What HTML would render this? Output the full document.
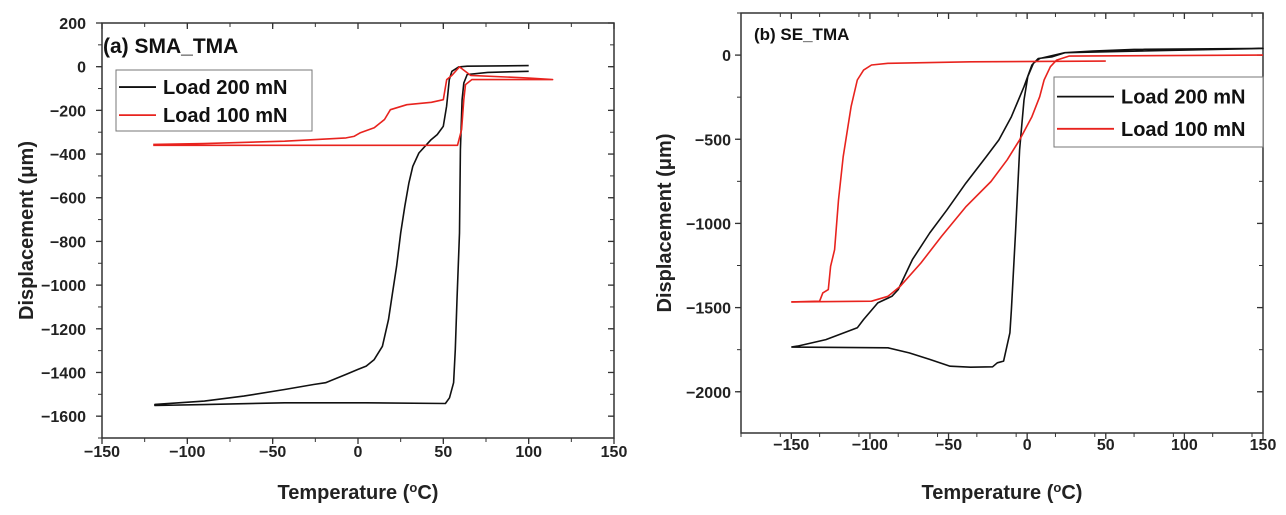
<!DOCTYPE html>
<html><head><meta charset="utf-8"><style>
body{margin:0;background:#fff;}
svg{display:block;font-family:"Liberation Sans",sans-serif;}
</style></head><body>
<svg id="svg" width="1286" height="515"></svg>
<script>
// Panel (a) data
const aTicksX=[-150,-100,-50,0,50,100,150];
const aTicksY=[200,0,-200,-400,-600,-800,-1000,-1200,-1400,-1600];
const a200T=[100,64,59,55,53.5,51.9,50,46.4,42.9,39.3,35.7,32.1,29.8,27.4,25,22.6,20.2,17.9,14.3,9.5,4.8,0,-7,-19,-26,-43,-67,-90,-119,-119,-90.5,-43,4.8,51.2,53.6,56,57,58,59.5,60,61,62,64,76,100];
const a200D=[5,2,-1,-21,-59,-181,-273,-311,-334,-364,-395,-456,-532,-639,-761,-914,-1036,-1158,-1280,-1341,-1371,-1386,-1409,-1447,-1455,-1478,-1508,-1531,-1546,-1551,-1547,-1539,-1539,-1542,-1516,-1447,-1295,-1066,-761,-380,-151,-75,-36,-26,-21];
const a100T=[-120,58.3,60.7,62,63,66.7,114,100,66,59.5,55,52,50,43,28.6,19,15.5,9.5,1.2,-2.4,-7,-43,-90.5,-120];
const a100D=[-360,-360,-288,-151,-82,-59,-59,-52,-40,-1,-40,-59,-151,-163,-174,-197,-242,-280,-303,-319,-326,-341,-352,-356];
// Panel (b) data
const bTicksX=[-150,-100,-50,0,50,100,150];
const bTicksY=[0,-500,-1000,-1500,-2000];
const b200T=[-150,-146,-128,-108,-104,-95,-86,-82,-73,-62,-51,-39,-26,-18,-10,-2,3,7,16,24,42,68,150,150,24,8,4,0.4,-2,-4.8,-7.4,-10,-11,-15,-19,-22,-36,-49,-62,-75,-88.5,-150];
const b200D=[-1735,-1729,-1690,-1620,-1571,-1472,-1433,-1393,-1215,-1057,-919,-761,-603,-504,-366,-188,-59,-20,-10,14,24,34,40,40,14,-20,-49,-128,-267,-563,-1057,-1512,-1650,-1818,-1828,-1852,-1854,-1848,-1808,-1769,-1739,-1735];
const b100T=[-150,-99,-88.5,-80.7,-67.6,-54.5,-38.8,-23,-12.7,-4.8,3,8,10.8,14.8,18.7,26.6,150];
const b100D=[-1466,-1462,-1433,-1373,-1235,-1077,-899,-751,-622,-504,-366,-247,-148,-69,-30,-6,0];
const b100cT=[50,-36,-88.5,-99,-104,-108,-112,-117,-120,-122.5,-125,-126.5,-130,-132,-150];
const b100cD=[-36,-40,-49,-59,-89,-148,-306,-603,-860,-1156,-1255,-1393,-1413,-1462,-1466];

const NS='http://www.w3.org/2000/svg';
const svg=document.getElementById('svg');
function mk(tag,attrs,parent){const e=document.createElementNS(NS,tag);for(const k in attrs)e.setAttribute(k,attrs[k]);(parent||svg).appendChild(e);return e;}

function panel(p){
  const g=mk('g',{});
  
  
  const sx=v=>p.x0+(v-p.xmin)/(p.xmax-p.xmin)*(p.x1-p.x0);
  const sy=v=>p.y1-(v-p.ymin)/(p.ymax-p.ymin)*(p.y1-p.y0);
  const box=mk('rect',{x:p.x0,y:p.y0,width:p.x1-p.x0,height:p.y1-p.y0,fill:'none',stroke:'#333','stroke-width':1.5},g);
  
  
  p.ticksX.forEach(v=>{
    const X=sx(v);
    mk('line',{x1:X,x2:X,y1:p.y1,y2:p.y1+6,stroke:'#333','stroke-width':1.3},g);
    mk('line',{x1:X,x2:X,y1:p.y0,y2:p.y0+6,stroke:'#333','stroke-width':1.3},g);
    const t=mk('text',{x:X,y:p.y1+p.xld,'text-anchor':'middle','font-size':16,'font-weight':'bold',fill:'#222'},g);
    t.textContent=(v<0?'\u2212'+(-v):v);
    
    
  });
  for(let v=p.xmin;v<=p.xmax;v+=p.mx){const X=sx(v);
    mk('line',{x1:X,x2:X,y1:p.y1,y2:p.y1+4,stroke:'#333','stroke-width':1},g);
    mk('line',{x1:X,x2:X,y1:p.y0,y2:p.y0+4,stroke:'#333','stroke-width':1},g);}
  p.ticksY.forEach(v=>{
    const Y=sy(v);
    mk('line',{x1:p.x0-6,x2:p.x0,y1:Y,y2:Y,stroke:'#333','stroke-width':1.3},g);
    mk('line',{x1:p.x1-6,x2:p.x1,y1:Y,y2:Y,stroke:'#333','stroke-width':1.3},g);
    const t=mk('text',{x:p.x0-p.yld,y:Y+6,'text-anchor':'end','font-size':16,'font-weight':'bold',fill:'#222'},g);
    t.textContent=(v<0?'\u2212'+(-v):v);
    
    
  });
  for(let v=p.my0;v>=p.ymin;v-=p.my){const Y=sy(v);
    mk('line',{x1:p.x0-4,x2:p.x0,y1:Y,y2:Y,stroke:'#333','stroke-width':1},g);
    mk('line',{x1:p.x1-4,x2:p.x1,y1:Y,y2:Y,stroke:'#333','stroke-width':1},g);}
  p.series.forEach(s=>{
    const d=s.t.map((v,i)=>(i?'L':'M')+sx(v).toFixed(1)+','+sy(s.d[i]).toFixed(1)).join(' ');
    const path=mk('path',{d:d,fill:'none',stroke:s.c,'stroke-width':1.6,'stroke-linejoin':'round'},g);
    
    
  });
  const xt=mk('text',{x:(p.x0+p.x1)/2,y:499,'text-anchor':'middle','font-size':20,'font-weight':'bold',fill:'#222'},g);
  xt.innerHTML='Temperature (<tspan font-size="13" dy="-7">o</tspan><tspan dy="7">C)</tspan>';
  
  
  const yt=mk('text',{x:0,y:0,'text-anchor':'middle','font-size':20,'font-weight':'bold',fill:'#222',transform:`translate(${p.ytx},${(p.y0+p.y1)/2}) rotate(-90)`},g);
  yt.textContent='Displacement (\u03bcm)';
  
  
  const tt=mk('text',{x:p.tx,y:p.ty,'font-size':p.tfs,'font-weight':'bold',fill:'#111'},g);
  tt.textContent=p.title;
  
  
  const L=p.leg;
  const lg=mk('g',{},g);
  
  
  mk('rect',{x:L.x,y:L.y,width:L.w,height:L.h,fill:'#fff',stroke:'#777','stroke-width':1},lg);
  [['Load 200 mN','#111'],['Load 100 mN','#e8231e']].forEach((e,i)=>{
    const yy=L.y+L.h*(0.28+0.46*i);
    mk('line',{x1:L.x+3,x2:L.x+L.lw,y1:yy,y2:yy,stroke:e[1],'stroke-width':1.8},lg);
    const t=mk('text',{x:L.x+L.lw+7,y:yy+7,'font-size':20,'font-weight':'bold',fill:'#111'},lg);
    t.textContent=e[0];
    
    
  });
}

panel({name:'chart-sma-tma',x0:102,x1:614,y0:23,y1:438,xmin:-150,xmax:150,ymin:-1700,ymax:200,mx:25,my:100,my0:200,
  ticksX:aTicksX,ticksY:aTicksY,ytx:33,title:'(a) SMA_TMA',tx:103,ty:53,tfs:21,xld:19,yld:16,
  leg:{x:116,y:70,w:196,h:61,lw:40},
  series:[{t:a200T,d:a200D,c:'#111',n:'series-load-200'},{t:a100T,d:a100D,c:'#e8231e',n:'series-load-100'}]});
panel({name:'chart-se-tma',x0:741,x1:1263,y0:13,y1:433,xmin:-182,xmax:150,ymin:-2245,ymax:250,mx:25,my:250,my0:250,
  ticksX:bTicksX,ticksY:bTicksY,ytx:671,title:'(b) SE_TMA',tx:754,ty:40,tfs:17,xld:17,yld:10,
  leg:{x:1054,y:77,w:209,h:70,lw:60},
  series:[{t:b200T,d:b200D,c:'#111',n:'series-load-200'},{t:b100T,d:b100D,c:'#e8231e',n:'series-load-100-heating'},{t:b100cT,d:b100cD,c:'#e8231e',n:'series-load-100-cooling'}]});
</script>
</body></html>
